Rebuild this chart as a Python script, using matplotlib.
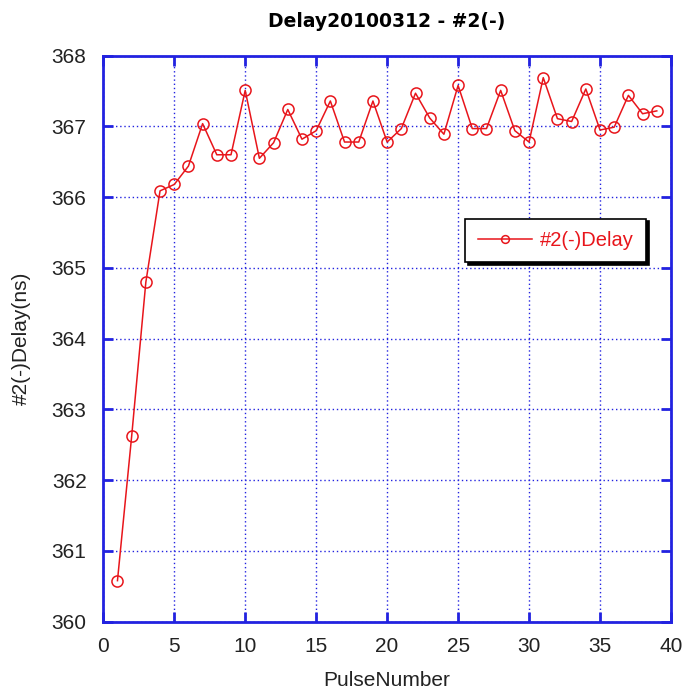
import matplotlib.pyplot as plt

pulse = list(range(1, 40))
delay = [360.58, 362.62, 364.80, 366.09, 366.18, 366.44, 367.04, 366.60, 366.60, 367.51,
         366.55, 366.77, 367.24, 366.82, 366.94, 367.36, 366.78, 366.78, 367.36, 366.78,
         366.97, 367.47, 367.12, 366.89, 367.58, 366.97, 366.97, 367.51, 366.94, 366.78,
         367.69, 367.11, 367.07, 367.53, 366.95, 366.99, 367.44, 367.18, 367.22]

xticks = [0, 5, 10, 15, 20, 25, 30, 35, 40]
yticks = [360, 361, 362, 363, 364, 365, 366, 367, 368]

blue = '#2222e0'
red = '#e8151b'

plt.rcParams['font.family'] = ['Liberation Sans', 'DejaVu Sans']

fig = plt.figure(figsize=(6.83, 6.93), dpi=100)
ax = fig.add_axes([0.1512, 0.1029, 0.8312, 0.8167])

ax.plot(pulse, delay, '-o', color=red, mfc='none', mec=red, ms=8, lw=1.1,
        mew=1.1, label='#2(-)Delay')

ax.set_xlim(0, 40)
ax.set_ylim(360, 368)
ax.set_xticks(xticks)
ax.set_yticks(yticks)
ax.grid(True, color=blue, linestyle=(0, (1, 2)), linewidth=1.0)
for s in ax.spines.values():
    s.set_color(blue)
    s.set_linewidth(2)
ax.tick_params(direction='in', length=7, width=2, color=blue, labelsize=15,
               labelcolor='#222222', top=True, right=True)
ax.tick_params(axis='x', pad=11)
ax.tick_params(axis='y', pad=12)

ax.set_xlabel('PulseNumber', fontsize=15, labelpad=11, color='#222222')
ax.set_ylabel('#2(-)Delay(ns)', fontsize=15, labelpad=15, color='#222222')
ax.set_title('Delay20100312 - #2(-)', fontsize=13.5, fontweight='bold',
             family='DejaVu Sans', pad=21)

leg = ax.legend(loc='center', bbox_to_anchor=(0.797, 0.674), fontsize=14.5,
                fancybox=False, shadow={'color': 'black', 'alpha': 1},
                framealpha=1, edgecolor='black', handlelength=2.7,
                handletextpad=0.4, borderpad=0.6, markerscale=0.7)
leg.get_frame().set_linewidth(1.2)
for t in leg.get_texts():
    t.set_color(red)

fig.savefig('out.png', dpi=100)
